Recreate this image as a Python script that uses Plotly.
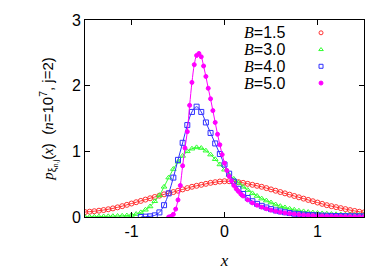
import numpy as np
import plotly.graph_objects as go

# ---------------- data ----------------
x_b15 = [round(-1.5 + 0.05 * i, 3) for i in range(61)]
y_b15 = [0.075, 0.081, 0.088, 0.096, 0.106, 0.118, 0.131, 0.147, 0.165, 0.185,
         0.205, 0.225, 0.245, 0.265, 0.285, 0.305, 0.325, 0.345, 0.362, 0.38,
         0.40, 0.42, 0.44, 0.46, 0.475, 0.49, 0.505, 0.52, 0.53, 0.54,
         0.545, 0.545, 0.54, 0.53, 0.52, 0.505, 0.49, 0.475, 0.46, 0.44,
         0.42, 0.40, 0.38, 0.36, 0.34, 0.32, 0.30, 0.28, 0.26, 0.24,
         0.22, 0.20, 0.18, 0.165, 0.15, 0.135, 0.12, 0.105, 0.092, 0.08, 0.07]

x_b30 = [round(-1.5 + 0.05 * i, 3) for i in range(61)]
y_b30 = [0.0, 0.002, 0.004, 0.006, 0.008, 0.010, 0.012, 0.015, 0.018, 0.022,
         0.03, 0.045, 0.07, 0.11, 0.16, 0.24, 0.33, 0.46, 0.60, 0.73,
         0.84, 0.93, 1.0, 1.04, 1.06, 1.05, 1.01, 0.95, 0.88, 0.80,
         0.72, 0.64, 0.58, 0.52, 0.46, 0.41, 0.36, 0.32, 0.28, 0.25,
         0.22, 0.19, 0.165, 0.145, 0.125, 0.11, 0.095, 0.085, 0.075, 0.067,
         0.06, 0.054, 0.049, 0.045, 0.041, 0.038, 0.035, 0.033, 0.031, 0.03, 0.028]

x_b40 = [round(-0.9 + 0.05 * i, 3) for i in range(49)]
y_b40 = [0.0, 0.005, 0.01, 0.025, 0.07, 0.18, 0.36, 0.60, 0.87, 1.13,
         1.40, 1.60, 1.68, 1.60, 1.44, 1.28, 1.12, 0.96, 0.80, 0.66,
         0.54, 0.43, 0.35, 0.29, 0.24, 0.20, 0.17, 0.145, 0.12, 0.10,
         0.085, 0.072, 0.06, 0.05, 0.043, 0.037, 0.032, 0.028, 0.024, 0.021,
         0.019, 0.017, 0.015, 0.014, 0.013, 0.012, 0.011, 0.01, 0.01]

x_b50 = [round(-0.6 + 0.025 * i, 3) for i in range(33)] + \
        [round(0.25 + 0.05 * i, 3) for i in range(26)]
y_b50 = [0.0, 0.01, 0.04, 0.12, 0.26, 0.48, 0.78, 1.05, 1.30, 1.70,
         2.05, 2.32, 2.46, 2.49, 2.44, 2.30, 2.14, 1.96, 1.80, 1.62,
         1.44, 1.26, 1.10, 0.95, 0.82, 0.71, 0.62, 0.55, 0.48, 0.43,
         0.39, 0.35, 0.32,
         0.26, 0.215, 0.18, 0.15, 0.125, 0.105, 0.088, 0.074, 0.062, 0.052,
         0.044, 0.037, 0.031, 0.026, 0.022, 0.019, 0.016, 0.014, 0.012, 0.01,
         0.009, 0.008, 0.007, 0.006, 0.005, 0.005]

series_names = ["B=1.5", "B=3.0", "B=4.0", "B=5.0"]
series_x = [x_b15, x_b30, x_b40, x_b50]
series_y = [y_b15, y_b30, y_b40, y_b50]
colors = ["#ff3030", "#30ff30", "#3030ff", "#ff00ff"]
symbols = ["circle-open", "triangle-up-open", "square-open", "circle"]
msizes = [5, 5, 5, 4]
leg_sizes = [4, 4, 4, 4]

x_ticks = [-1, 0, 1]
y_ticks = [0, 1, 2, 3]

SERIF = "font-family:'Liberation Serif'"

fig = go.Figure()
for xs, ys, c, s, ms in zip(series_x, series_y, colors, symbols, msizes):
    fig.add_trace(go.Scatter(x=xs, y=ys, mode="lines", line=dict(color=c, width=1, shape="spline"),
                             showlegend=False, hoverinfo="skip"))
    fig.add_trace(go.Scatter(x=xs, y=ys, mode="markers",
                             marker=dict(symbol=s, size=ms, color=c, line=dict(color=c, width=1)),
                             showlegend=False))

# legend (gnuplot style: text left, marker right) on a hidden [0,1] axis pair
leg_y = [0.935, 0.85, 0.765, 0.68]
for i, (name, c, s, ms) in enumerate(zip(series_names, colors, symbols, leg_sizes)):
    b, val = name.split("=")
    fig.add_annotation(xref="paper", yref="paper", x=0.725, y=leg_y[i], xanchor="right", yanchor="middle",
                       text=f"<span style=\"{SERIF}\"><i>{b}</i></span>={val}", showarrow=False,
                       font=dict(family="Liberation Sans", size=16, color="black"))
    fig.add_trace(go.Scatter(x=[0.846], y=[leg_y[i]], xaxis="x2", yaxis="y2", mode="markers",
                             marker=dict(symbol=s, size=ms, color=c, line=dict(color=c, width=1)),
                             showlegend=False, hoverinfo="skip"))

axis_common = dict(showgrid=False, zeroline=False, showline=True, linecolor="black", linewidth=1,
                   mirror="ticks", ticks="inside", ticklen=5, tickcolor="black", automargin=False,
                   tickfont=dict(family="Liberation Sans", size=16, color="black"))

ytitle = (f"<span style=\"{SERIF}\"><i>p</i></span><sub>ξ<sub>n,j</sub></sub>"
          f"(<span style=\"{SERIF}\"><i>x</i></span>)  "
          f"(<span style=\"{SERIF}\"><i>n</i></span>=10<sup>7</sup>, j=2)")

# page body adds an 8px offset, so the figure is shifted/shrunk to keep the plot box in place
fig.update_layout(
    width=382, height=265,
    margin=dict(l=77, r=26, t=12, b=56),
    plot_bgcolor="white", paper_bgcolor="white",
    xaxis=dict(range=[-1.5, 1.5], tickvals=x_ticks, ticktext=[str(v) for v in x_ticks],
               title=dict(text="<i>x</i>", font=dict(family="Liberation Serif", size=17, color="black"),
                          standoff=14),
               **axis_common),
    yaxis=dict(range=[0, 3], tickvals=y_ticks, ticktext=[str(v) for v in y_ticks],
               title=dict(text=ytitle, font=dict(family="Liberation Sans", size=15, color="black"),
                          standoff=14),
               **axis_common),
    xaxis2=dict(range=[0, 1], overlaying="x", visible=False),
    yaxis2=dict(range=[0, 1], overlaying="y", visible=False),
    showlegend=False,
)

fig.write_html("out.html")
